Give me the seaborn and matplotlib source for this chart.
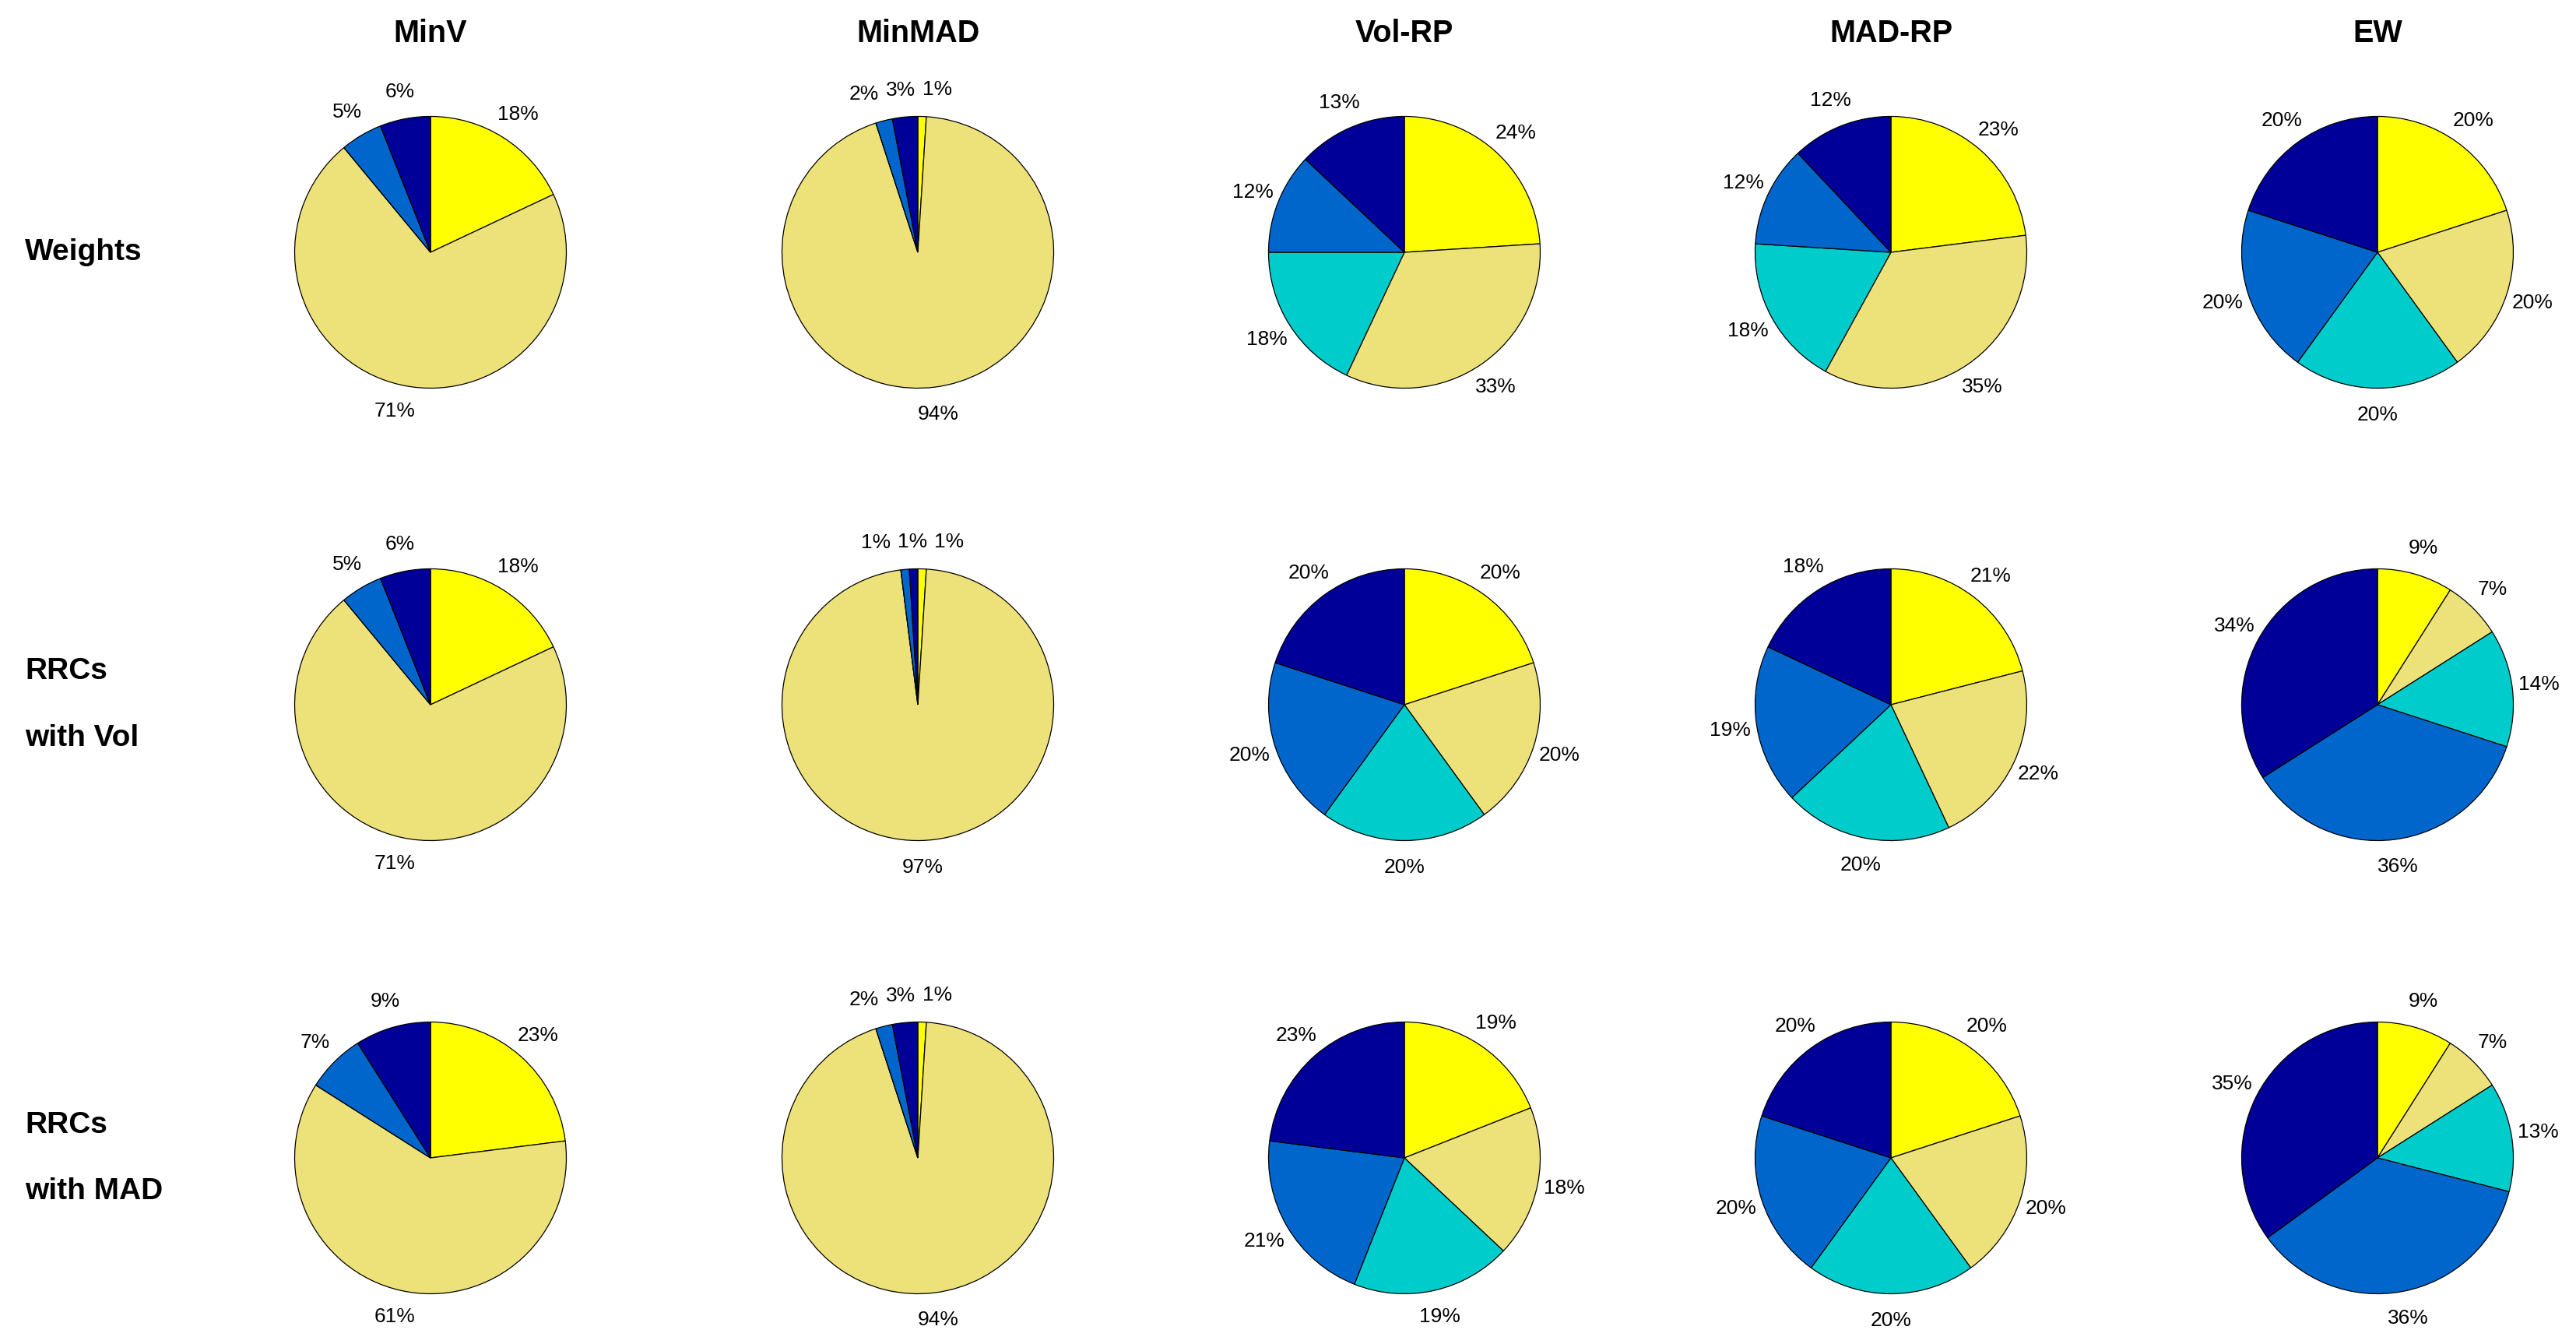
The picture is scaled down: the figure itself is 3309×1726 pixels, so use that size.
import matplotlib
matplotlib.use('Agg')
import matplotlib.pyplot as plt
import seaborn as sns

# Portfolio methods (columns) and what is shown (rows)
methods = ['MinV', 'MinMAD', 'Vol-RP', 'MAD-RP', 'EW']
row_names = ['Weights', 'RRCs\nwith Vol', 'RRCs\nwith MAD']

# shares in %, slices go clockwise from 12 o'clock: asset 1 .. asset 5
weights_pct = [
    [18, 71, 0, 5, 6],
    [1, 94, 0, 2, 3],
    [24, 33, 18, 12, 13],
    [23, 35, 18, 12, 12],
    [20, 20, 20, 20, 20],
]
rrc_vol_pct = [
    [18, 71, 0, 5, 6],
    [1, 97, 0, 1, 1],
    [20, 20, 20, 20, 20],
    [21, 22, 20, 19, 18],
    [9, 7, 14, 36, 34],
]
rrc_mad_pct = [
    [23, 61, 0, 7, 9],
    [1, 94, 0, 2, 3],
    [19, 18, 19, 21, 23],
    [20, 20, 20, 20, 20],
    [9, 7, 13, 36, 35],
]
table = [weights_pct, rrc_vol_pct, rrc_mad_pct]

slice_colors = sns.color_palette(['#ffff00', '#ede17a', '#00cccc', '#0066cc', '#000099'])

sns.set_theme(style='white')
plt.rcParams['font.family'] = ['Liberation Sans', 'DejaVu Sans']
plt.rcParams['text.color'] = 'black'

W, H = 3309, 1726
fig = plt.figure(figsize=(W / 100, H / 100), dpi=100)
fig.patch.set_facecolor('white')

# layout in pixels
col_x = [553, 1179, 1804, 2429, 3054]
row_y = [324, 905, 1487]
r_px = 174.5
lim = 1.45
half = lim * r_px


def pct_label(p):
    return f'{p:.0f}%' if p >= 0.5 else ''


def spread_labels(texts, gap=9):
    # push apart percentage labels that collide (small slices at the top)
    texts = [t for t in texts if t.get_text()]
    renderer = fig.canvas.get_renderer()
    for _ in range(200):
        moved = False
        boxes = [t.get_window_extent(renderer) for t in texts]
        for i in range(len(texts)):
            for j in range(i + 1, len(texts)):
                a, b = boxes[i], boxes[j]
                ox = min(a.x1, b.x1) - max(a.x0, b.x0) + gap
                oy = min(a.y1, b.y1) - max(a.y0, b.y0)
                if ox > 0 and oy > 0:
                    ca = (a.x0 + a.x1) / 2
                    cb = (b.x0 + b.x1) / 2
                    sign = 1 if ca < cb or (ca == cb and i > j) else -1
                    shift = ox / 2 / r_px
                    xi, yi = texts[i].get_position()
                    xj, yj = texts[j].get_position()
                    texts[i].set_position((xi - sign * shift, yi))
                    texts[j].set_position((xj + sign * shift, yj))
                    moved = True
                    break
            if moved:
                break
        if not moved:
            break


for r, row in enumerate(table):
    for c, vals in enumerate(row):
        ax = fig.add_axes([(col_x[c] - half) / W, 1 - (row_y[r] + half) / H,
                           2 * half / W, 2 * half / H])
        wedges, _, autotexts = ax.pie(
            vals, colors=slice_colors, startangle=90, counterclock=False,
            autopct=pct_label, pctdistance=1.2, radius=1,
            wedgeprops=dict(edgecolor='black', linewidth=0.9),
            textprops=dict(fontsize=19, color='black'))
        ax.set_xlim(-lim, lim)
        ax.set_ylim(-lim, lim)
        ax.set_aspect('auto')
        ax.axis('off')
        spread_labels(autotexts)
        if r == 0:
            ax.set_title(methods[c], fontsize=28.5, fontweight='bold', pad=12,
                         color='black')

for r, name in enumerate(row_names):
    fig.text(32 / W, 1 - row_y[r] / H, name, ha='left', va='center',
             fontsize=28, fontweight='bold', linespacing=2.75, color='black')

fig.savefig('out.png', dpi=100, facecolor='white')
